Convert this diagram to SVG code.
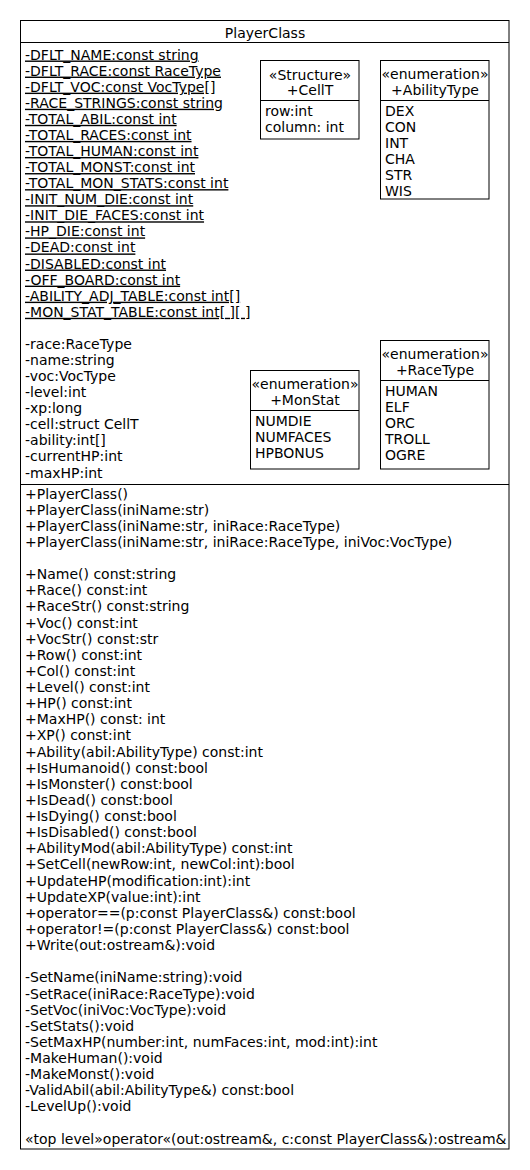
<svg xmlns="http://www.w3.org/2000/svg" width="530" height="1170" viewBox="0 0 530 1170">
<style>
text{font-family:"DejaVu Sans","Liberation Sans",sans-serif;font-size:14px;fill:#000}
.c{text-anchor:middle}
.u{text-decoration:underline}
.box{fill:#fff;stroke:#000;stroke-width:1}
.ln{stroke:#000;stroke-width:1;fill:none}
</style>
<rect width="530" height="1170" fill="#fff"/>
<g id="PlayerClass">
<rect class="box" x="20.5" y="20.5" width="488.5" height="1128.5"/>
<line class="ln" x1="20.5" y1="42.5" x2="509" y2="42.5"/>
<line class="ln" x1="20.5" y1="484.5" x2="509" y2="484.5"/>
<text class="c" x="265" y="37.5">PlayerClass</text>
<text x="25" y="59.5" class="u">-DFLT_NAME:const string<tspan x="25" dy="16.08">-DFLT_RACE:const RaceType</tspan><tspan x="25" dy="16.08">-DFLT_VOC:const VocType[]</tspan><tspan x="25" dy="16.08">-RACE_STRINGS:const string</tspan><tspan x="25" dy="16.08">-TOTAL_ABIL:const int</tspan><tspan x="25" dy="16.08">-TOTAL_RACES:const int</tspan><tspan x="25" dy="16.08">-TOTAL_HUMAN:const int</tspan><tspan x="25" dy="16.08">-TOTAL_MONST:const int</tspan><tspan x="25" dy="16.08">-TOTAL_MON_STATS:const int</tspan><tspan x="25" dy="16.08">-INIT_NUM_DIE:const int</tspan><tspan x="25" dy="16.08">-INIT_DIE_FACES:const int</tspan><tspan x="25" dy="16.08">-HP_DIE:const int</tspan><tspan x="25" dy="16.08">-DEAD:const int</tspan><tspan x="25" dy="16.08">-DISABLED:const int</tspan><tspan x="25" dy="16.08">-OFF_BOARD:const int</tspan><tspan x="25" dy="16.08">-ABILITY_ADJ_TABLE:const int[]</tspan><tspan x="25" dy="16.08">-MON_STAT_TABLE:const int[ ][ ]</tspan></text>
<text x="25" y="348.9">-race:RaceType<tspan x="25" dy="16.08">-name:string</tspan><tspan x="25" dy="16.08">-voc:VocType</tspan><tspan x="25" dy="16.08">-level:int</tspan><tspan x="25" dy="16.08">-xp:long</tspan><tspan x="25" dy="16.08">-cell:struct CellT</tspan><tspan x="25" dy="16.08">-ability:int[]</tspan><tspan x="25" dy="16.08">-currentHP:int</tspan><tspan x="25" dy="16.08">-maxHP:int</tspan></text>
<text x="25" y="498.5">+PlayerClass()<tspan x="25" dy="16.13">+PlayerClass(iniName:str)</tspan><tspan x="25" dy="16.13">+PlayerClass(iniName:str, iniRace:RaceType)</tspan><tspan x="25" dy="16.13">+PlayerClass(iniName:str, iniRace:RaceType, iniVoc:VocType)</tspan><tspan x="25" dy="32.26">+Name() const:string</tspan><tspan x="25" dy="16.13">+Race() const:int</tspan><tspan x="25" dy="16.13">+RaceStr() const:string</tspan><tspan x="25" dy="16.13">+Voc() const:int</tspan><tspan x="25" dy="16.13">+VocStr() const:str</tspan><tspan x="25" dy="16.13">+Row() const:int</tspan><tspan x="25" dy="16.13">+Col() const:int</tspan><tspan x="25" dy="16.13">+Level() const:int</tspan><tspan x="25" dy="16.13">+HP() const:int</tspan><tspan x="25" dy="16.13">+MaxHP() const: int</tspan><tspan x="25" dy="16.13">+XP() const:int</tspan><tspan x="25" dy="16.13">+Ability(abil:AbilityType) const:int</tspan><tspan x="25" dy="16.13">+IsHumanoid() const:bool</tspan><tspan x="25" dy="16.13">+IsMonster() const:bool</tspan><tspan x="25" dy="16.13">+IsDead() const:bool</tspan><tspan x="25" dy="16.13">+IsDying() const:bool</tspan><tspan x="25" dy="16.13">+IsDisabled() const:bool</tspan><tspan x="25" dy="16.13">+AbilityMod(abil:AbilityType) const:int</tspan><tspan x="25" dy="16.13">+SetCell(newRow:int, newCol:int):bool</tspan><tspan x="25" dy="16.13">+UpdateHP(modification:int):int</tspan><tspan x="25" dy="16.13">+UpdateXP(value:int):int</tspan><tspan x="25" dy="16.13">+operator==(p:const PlayerClass&amp;) const:bool</tspan><tspan x="25" dy="16.13">+operator!=(p:const PlayerClass&amp;) const:bool</tspan><tspan x="25" dy="16.13">+Write(out:ostream&amp;):void</tspan><tspan x="25" dy="32.26">-SetName(iniName:string):void</tspan><tspan x="25" dy="16.13">-SetRace(iniRace:RaceType):void</tspan><tspan x="25" dy="16.13">-SetVoc(iniVoc:VocType):void</tspan><tspan x="25" dy="16.13">-SetStats():void</tspan><tspan x="25" dy="16.13">-SetMaxHP(number:int, numFaces:int, mod:int):int</tspan><tspan x="25" dy="16.13">-MakeHuman():void</tspan><tspan x="25" dy="16.13">-MakeMonst():void</tspan><tspan x="25" dy="16.13">-ValidAbil(abil:AbilityType&amp;) const:bool</tspan><tspan x="25" dy="16.13">-LevelUp():void</tspan><tspan x="25" dy="32.26">«top level»operator«(out:ostream&amp;, c:const PlayerClass&amp;):ostream&amp;</tspan></text>
</g>
<g id="CellT">
<rect class="box" x="260.5" y="60.5" width="98.5" height="78.5"/>
<line class="ln" x1="260.5" y1="100.5" x2="359" y2="100.5"/>
<text class="c" x="310" y="79.5">«Structure»</text>
<text class="c" x="310" y="95">+CellT</text>
<text x="265" y="115.5">row:int<tspan x="265" dy="16">column: int</tspan></text>
</g>
<g id="AbilityType">
<rect class="box" x="380.5" y="60.5" width="108.5" height="138.5"/>
<line class="ln" x1="380.5" y1="100.5" x2="489" y2="100.5"/>
<text class="c" x="435" y="78.5">«enumeration»</text>
<text class="c" x="435" y="94.5">+AbilityType</text>
<text x="385" y="115.5">DEX<tspan x="385" dy="16">CON</tspan><tspan x="385" dy="16">INT</tspan><tspan x="385" dy="16">CHA</tspan><tspan x="385" dy="16">STR</tspan><tspan x="385" dy="16">WIS</tspan></text>
</g>
<g id="MonStat">
<rect class="box" x="250.5" y="370.5" width="108.5" height="98.5"/>
<line class="ln" x1="250.5" y1="410.5" x2="359" y2="410.5"/>
<text class="c" x="305" y="388.5">«enumeration»</text>
<text class="c" x="305" y="404.5">+MonStat</text>
<text x="255" y="425.5">NUMDIE<tspan x="255" dy="16">NUMFACES</tspan><tspan x="255" dy="16">HPBONUS</tspan></text>
</g>
<g id="RaceType">
<rect class="box" x="380.5" y="340.5" width="108.5" height="128.5"/>
<line class="ln" x1="380.5" y1="380.5" x2="489" y2="380.5"/>
<text class="c" x="435" y="358.5">«enumeration»</text>
<text class="c" x="435" y="374.5">+RaceType</text>
<text x="385" y="395.5">HUMAN<tspan x="385" dy="16">ELF</tspan><tspan x="385" dy="16">ORC</tspan><tspan x="385" dy="16">TROLL</tspan><tspan x="385" dy="16">OGRE</tspan></text>
</g>
<g id="connectors"></g>
</svg>
